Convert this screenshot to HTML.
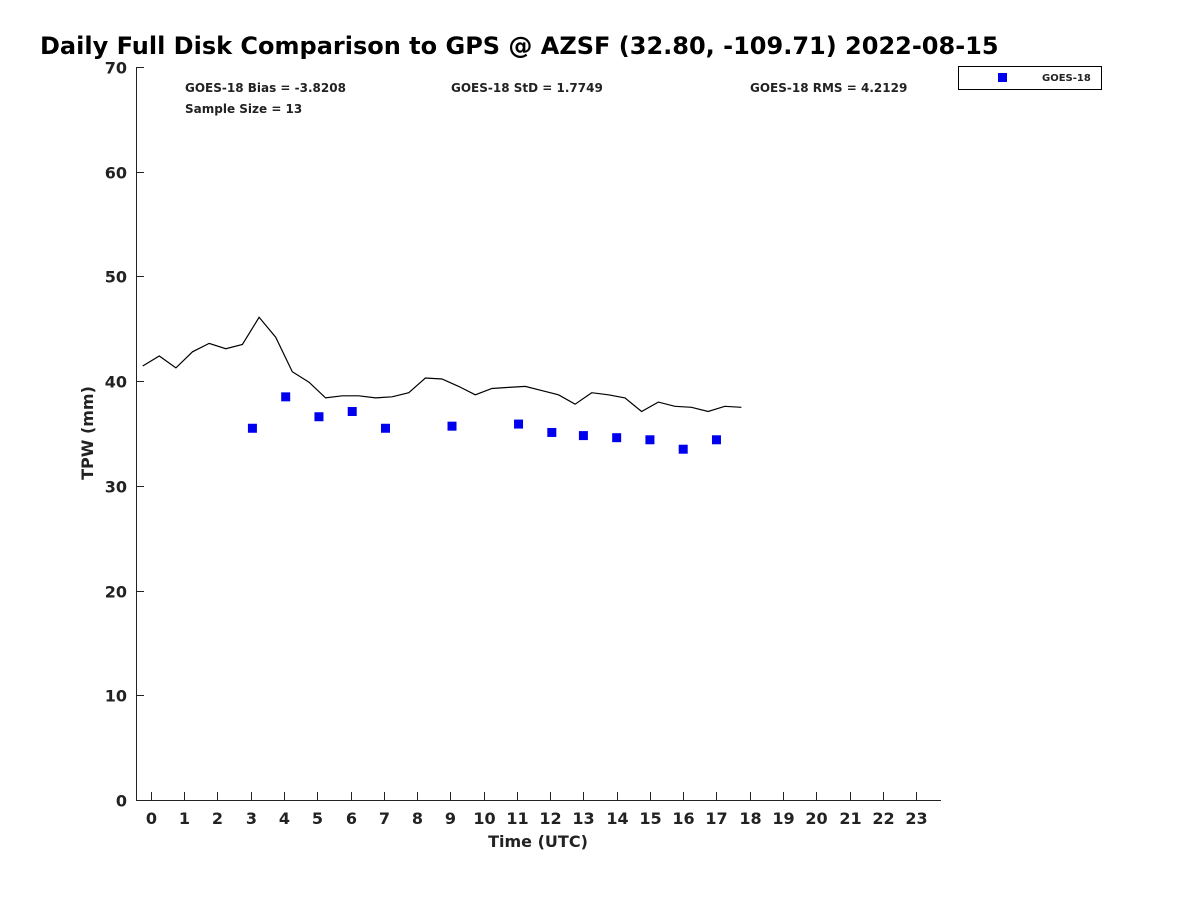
<!DOCTYPE html>
<html><head><meta charset="utf-8"><style>
body{margin:0;background:#fff;font-family:"Liberation Sans","DejaVu Sans",sans-serif;}
svg text{font-family:"DejaVu Sans","Liberation Sans",sans-serif;font-weight:bold;fill:#222;}
</style></head><body>
<svg id="chart" width="1200" height="900" xmlns="http://www.w3.org/2000/svg">
<text x="40" y="54" font-size="24" style="fill:#000">Daily Full Disk Comparison to GPS @ AZSF (32.80, -109.71) 2022-08-15</text>
<g id="axes"></g>
<text x="185" y="92" font-size="12">GOES-18 Bias = -3.8208</text>
<text x="451" y="92" font-size="12">GOES-18 StD = 1.7749</text>
<text x="750" y="92" font-size="12">GOES-18 RMS = 4.2129</text>
<text x="185" y="113" font-size="12">Sample Size = 13</text>
<g>
<rect x="958.5" y="66.5" width="143" height="23" fill="#fff" stroke="#000" stroke-width="1"/>
<rect x="998" y="73" width="9" height="9" fill="#0000ee"/>
<text x="1042" y="81" font-size="10">GOES-18</text>
</g>
<text transform="translate(93,433) rotate(-90)" text-anchor="middle" font-size="16">TPW (mm)</text>
<text x="538" y="847" text-anchor="middle" font-size="16">Time (UTC)</text>
</svg>
<script>
const gpsValues=[41.45,42.4,41.26,42.8,43.6,43.1,43.5,46.1,44.2,40.9,39.9,38.4,38.6,38.6,38.4,38.5,38.9,40.3,40.2,39.5,38.7,39.3,39.4,39.5,39.1,38.7,37.8,38.9,38.7,38.4,37.1,38.0,37.6,37.5,37.1,37.6,37.5];
const gpsStart=-0.25, gpsStep=0.5;
const goesHours=[3.05,4.05,5.05,6.05,7.05,9.05,11.05,12.05,13.0,14.0,15.0,16.0,17.0];
const goesValues=[35.5,38.5,36.6,37.1,35.5,35.7,35.9,35.1,34.8,34.6,34.4,33.5,34.4];
const yTicks=[0,10,20,30,40,50,60,70];
const xTicks=[0,1,2,3,4,5,6,7,8,9,10,11,12,13,14,15,16,17,18,19,20,21,22,23];
const L=136,R=941,T=67,B=800,xmin=-0.45,xmax=23.75,ymin=0,ymax=70;
const X=h=>L+(h-xmin)/(xmax-xmin)*(R-L);
const Y=v=>B-(v-ymin)/(ymax-ymin)*(B-T);
const NS="http://www.w3.org/2000/svg";
const svg=document.getElementById('chart');
const ax=document.getElementById('axes');
function mk(tag,attrs,parent){const e=document.createElementNS(NS,tag);for(const k in attrs)e.setAttribute(k,attrs[k]);(parent||svg).appendChild(e);return e;}
const yl=mk('line',{x1:L+0.5,y1:T,x2:L+0.5,y2:B,stroke:'#222'},ax);


const xl=mk('line',{x1:L,y1:B+0.5,x2:R,y2:B+0.5,stroke:'#222'},ax);


yTicks.forEach(v=>{const y=Math.round(Y(v))+0.5;mk('line',{x1:L,y1:y,x2:L+8,y2:y,stroke:'#222'},ax);
const t=mk('text',{x:L-9,y:y+6,'text-anchor':'end','font-size':16},ax);t.textContent=v;

});
xTicks.forEach(h=>{const x=Math.round(X(h))+0.5;mk('line',{x1:x,y1:B,x2:x,y2:B-8,stroke:'#222'},ax);
const t=mk('text',{x:x,y:B+24,'text-anchor':'middle','font-size':16},ax);t.textContent=h;

});
const pts=gpsValues.map((v,i)=>X(gpsStart+i*gpsStep).toFixed(1)+','+Y(v).toFixed(1)).join(' ');
const pl=mk('polyline',{points:pts,fill:'none',stroke:'#000','stroke-width':1.2});


goesHours.forEach((h,i)=>{const r=mk('rect',{x:X(h)-4.5,y:Y(goesValues[i])-4.5,width:9,height:9,fill:'#0000ee'});

});
</script>
</body></html>
